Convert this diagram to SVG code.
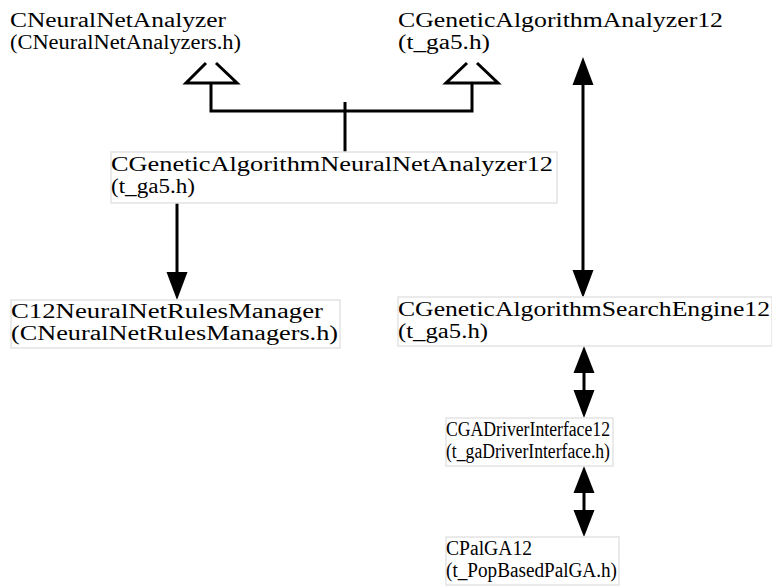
<svg xmlns="http://www.w3.org/2000/svg" width="772" height="587" viewBox="0 0 772 587">
<style>
text{font-family:"Liberation Serif","Times New Roman",serif;font-size:20px;fill:#000}
.box{fill:#fff;stroke:#e3e3e3;stroke-width:1.5}
.ln{fill:none;stroke:#000;stroke-width:3}
.tri{fill:#fff;stroke:#000;stroke-width:3;stroke-linejoin:miter}
.ah{fill:#000;stroke:none}
</style>
<rect width="772" height="587" fill="#fff"/>
<g id="connectors">
  <path class="ln" d="M211,83 V111 H472 V83"/>
  <path class="ln" d="M345,102 V152"/>
  <path class="tri" d="M206,63 L186,83 H237 L216,63"/>
  <path class="tri" d="M467,63 L446,83 H498 L477,63"/>
  <path class="ln" d="M583,84 V272"/>
  <polygon class="ah" points="583,57 572.5,85 593.5,85"/>
  <polygon class="ah" points="583,298 572.5,270 593.5,270"/>
  <path class="ln" d="M177,203 V274"/>
  <polygon class="ah" points="177,300 166.5,272 187.5,272"/>
  <path class="ln" d="M584,372 V392"/>
  <polygon class="ah" points="584,346 573.5,373 594.5,373"/>
  <polygon class="ah" points="584,418 573.5,390 594.5,390"/>
  <path class="ln" d="M584,492 V512"/>
  <polygon class="ah" points="584,466 573.5,493 594.5,493"/>
  <polygon class="ah" points="584,537 573.5,510 594.5,510"/>
</g>
<g id="CNeuralNetAnalyzer">
  <text x="10" y="27" textLength="216" lengthAdjust="spacingAndGlyphs">CNeuralNetAnalyzer</text>
  <text x="10" y="49" textLength="231" lengthAdjust="spacingAndGlyphs">(CNeuralNetAnalyzers.h)</text>
</g>
<g id="CGeneticAlgorithmAnalyzer12">
  <text x="398" y="27" textLength="325" lengthAdjust="spacingAndGlyphs">CGeneticAlgorithmAnalyzer12</text>
  <text x="398" y="49" textLength="92" lengthAdjust="spacingAndGlyphs">(t_ga5.h)</text>
</g>
<g id="CGeneticAlgorithmNeuralNetAnalyzer12">
  <rect class="box" x="111" y="152" width="446" height="51"/>
  <text x="111" y="171" textLength="442" lengthAdjust="spacingAndGlyphs">CGeneticAlgorithmNeuralNetAnalyzer12</text>
  <text x="111" y="193" textLength="84" lengthAdjust="spacingAndGlyphs">(t_ga5.h)</text>
</g>
<g id="C12NeuralNetRulesManager">
  <rect class="box" x="11" y="300" width="329" height="48"/>
  <text x="11" y="318" textLength="312" lengthAdjust="spacingAndGlyphs">C12NeuralNetRulesManager</text>
  <text x="11" y="340" textLength="327" lengthAdjust="spacingAndGlyphs">(CNeuralNetRulesManagers.h)</text>
</g>
<g id="CGeneticAlgorithmSearchEngine12">
  <rect class="box" x="398" y="297" width="374" height="49"/>
  <text x="398" y="316" textLength="372" lengthAdjust="spacingAndGlyphs">CGeneticAlgorithmSearchEngine12</text>
  <text x="398" y="338" textLength="90" lengthAdjust="spacingAndGlyphs">(t_ga5.h)</text>
</g>
<g id="CGADriverInterface12">
  <rect class="box" x="446" y="418" width="167" height="48"/>
  <text x="446" y="436" textLength="164" lengthAdjust="spacingAndGlyphs">CGADriverInterface12</text>
  <text x="446" y="458" textLength="164" lengthAdjust="spacingAndGlyphs">(t_gaDriverInterface.h)</text>
</g>
<g id="CPalGA12">
  <rect class="box" x="446" y="537" width="173" height="48"/>
  <text x="446" y="555" textLength="86" lengthAdjust="spacingAndGlyphs">CPalGA12</text>
  <text x="446" y="577" textLength="171" lengthAdjust="spacingAndGlyphs">(t_PopBasedPalGA.h)</text>
</g>
</svg>
